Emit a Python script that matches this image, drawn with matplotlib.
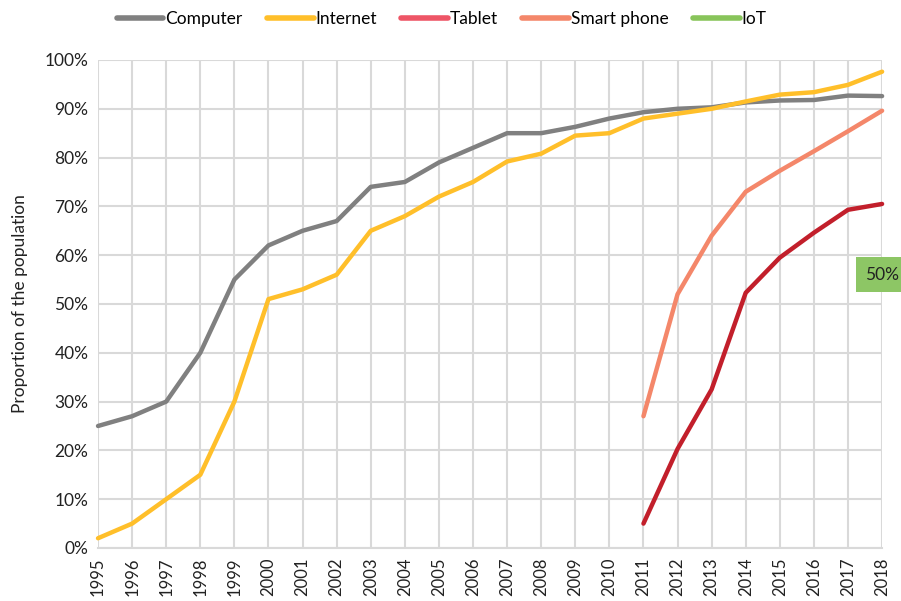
import numpy as np
import matplotlib.pyplot as plt
from matplotlib.lines import Line2D

plt.rcParams["font.family"] = ["Lato", "DejaVu Sans"]

# Data (percent of population)
years = list(range(1995, 2019))
computer = [25, 27, 30, 40, 55, 62, 65, 67, 74, 75, 79, 82, 85, 85, 86.3, 88,
            89.3, 90, 90.3, 91.3, 91.7, 91.8, 92.7, 92.6]
internet = [2, 5, 10, 15, 30, 51, 53, 56, 65, 68, 72, 75, 79.2, 80.8, 84.5, 85,
            88, 89, 90, 91.5, 92.9, 93.4, 94.9, 97.6]
phone_years = list(range(2011, 2019))
smart_phone = [27, 52, 64, 73, 77.3, 81.3, 85.4, 89.6]
tablet = [5, 20.3, 32.5, 52.3, 59.5, 64.6, 69.3, 70.5]
iot_years = [2018]
iot = [50]

labels = ["Computer", "Internet", "Tablet", "Smart phone", "IoT"]
legend_colors = ["#808080", "#FFBF2A", "#EE5566", "#F4876A", "#88C45A"]

fig = plt.figure(figsize=(9.01, 6.01), dpi=100)
ax = fig.add_axes([0.1088, 0.0882, 0.8702, 0.812])

lw = 3.2
ax.plot(years, computer, color="#808080", lw=lw, clip_on=False, solid_capstyle="round")
ax.plot(years, internet, color="#FFBF2A", lw=lw, clip_on=False, solid_capstyle="round")
ax.plot(phone_years, tablet, color="#C21F2B", lw=lw, clip_on=False, solid_capstyle="round")
ax.plot(phone_years, smart_phone, color="#F4876A", lw=lw, clip_on=False, solid_capstyle="round")
ax.plot(iot_years, iot, color="#88C45A", lw=lw, clip_on=False)

# IoT data label
ax.annotate(f"{iot[0]}%", xy=(iot_years[0], iot[0]), xytext=(0, 21),
            textcoords="offset points", ha="center", va="center", fontsize=12.5,
            bbox=dict(boxstyle="square,pad=0.55", fc="#8DC665", ec="none"),
            color="#222222", annotation_clip=False)

ax.set_xlim(1995, 2018)
ax.set_ylim(0, 100)
ax.set_xticks(years)
ax.set_xticklabels([str(y) for y in years], rotation=90, fontsize=12)
ax.set_yticks(np.arange(0, 101, 10))
ax.set_yticklabels([f"{v}%" for v in range(0, 101, 10)], fontsize=12.5)
ax.tick_params(length=0, pad=7, colors="#222222")
ax.grid(True, color="#D9D9D9", lw=1.5)
ax.set_axisbelow(True)
for s in ["top", "right", "left"]:
    ax.spines[s].set_visible(False)
ax.spines["bottom"].set_color("#D9D9D9")
ax.spines["bottom"].set_linewidth(1.5)

ax.set_ylabel("Proportion of the population", fontsize=12.5, color="#222222", labelpad=12)

handles = [Line2D([0], [0], color=c, lw=4, solid_capstyle="round") for c in legend_colors]
fig.legend(handles, labels, loc="center", bbox_to_anchor=(0.49, 0.968), ncol=5,
           frameon=False, fontsize=12.5, handlelength=2.7, handletextpad=0.1,
           columnspacing=1.4)

plt.savefig("out.png", dpi=100)
